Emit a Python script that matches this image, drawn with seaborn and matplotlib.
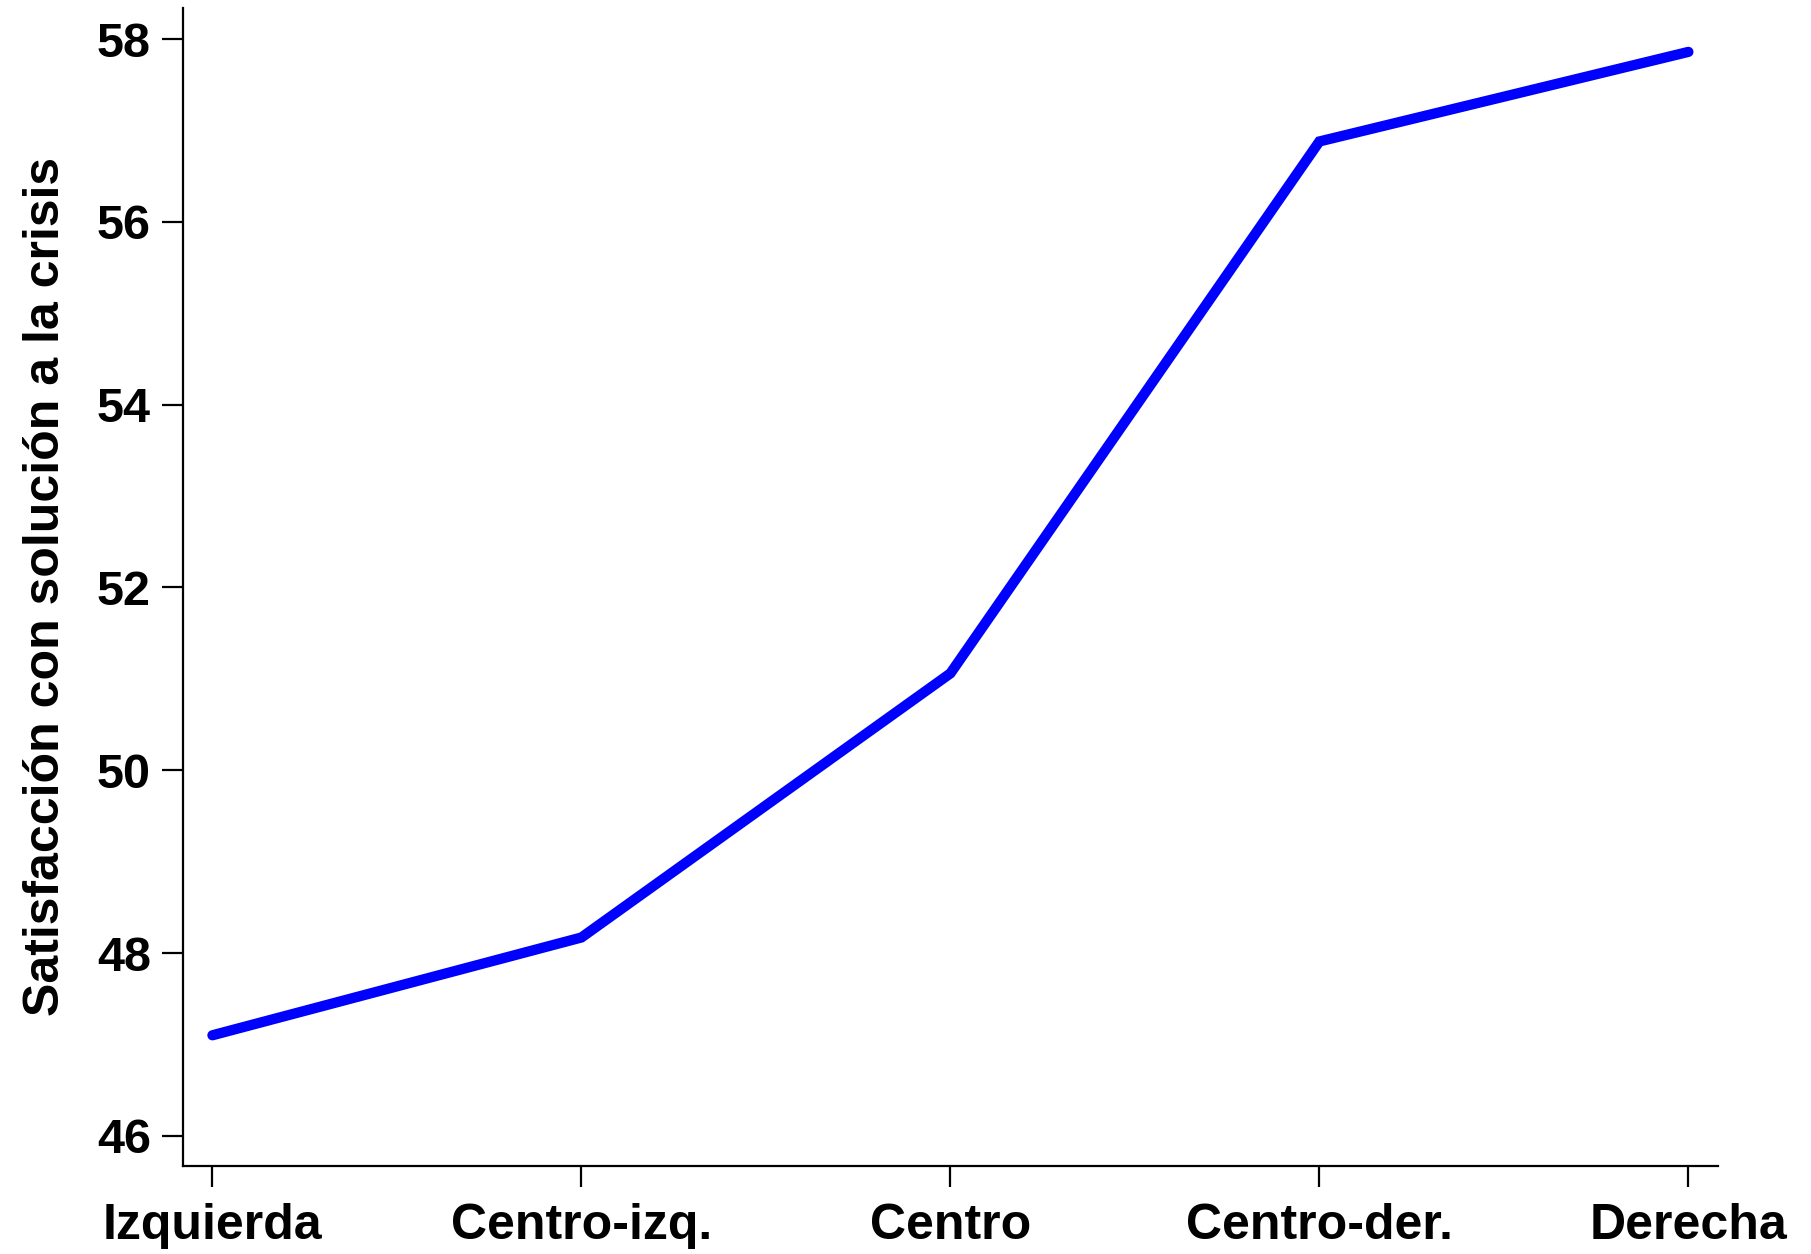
import pandas as pd
import matplotlib.pyplot as plt
import seaborn as sns

# ideology groups and mean satisfaction
categories = ["Izquierda", "Centro-izq.", "Centro", "Centro-der.", "Derecha"]
satisfaccion = [47.10, 48.17, 51.06, 56.88, 57.86]
y_ticks = [46, 48, 50, 52, 54, 56, 58]

df = pd.DataFrame({"ideologia": categories, "satisfaccion": satisfaccion})

sns.set_theme(style="ticks")
plt.rcParams['font.family'] = ['Liberation Sans Narrow', 'Liberation Sans', 'DejaVu Sans']
plt.rcParams['font.weight'] = 'bold'

fig = plt.figure(figsize=(18.11, 12.54), dpi=100)
ax = fig.add_axes([0.101, 0.0702, 0.8476, 0.9234])

sns.lineplot(data=df, x="ideologia", y="satisfaccion", sort=False,
             color="#0000FF", linewidth=7.4, ax=ax,
             solid_capstyle="round", solid_joinstyle="miter")

ax.set_xlim(-0.08, 4.08)
ax.set_ylim(45.67, 58.34)
ax.set_yticks(y_ticks)
ax.set_xlabel("")
ax.set_ylabel("Satisfacción con solución a la crisis", fontsize=36,
              fontweight="bold", color="black", labelpad=20)

for side in ["top", "right"]:
    ax.spines[side].set_visible(False)
for side in ["left", "bottom"]:
    ax.spines[side].set_linewidth(1.6)
    ax.spines[side].set_color("black")

ax.tick_params(axis="both", length=15, width=1.6, color="black",
               labelcolor="black")
ax.tick_params(axis="x", pad=12, labelsize=36)
ax.tick_params(axis="y", pad=8, labelsize=35)
for lab in ax.get_xticklabels() + ax.get_yticklabels():
    lab.set_fontweight("bold")

fig.savefig("out.png", dpi=100)
